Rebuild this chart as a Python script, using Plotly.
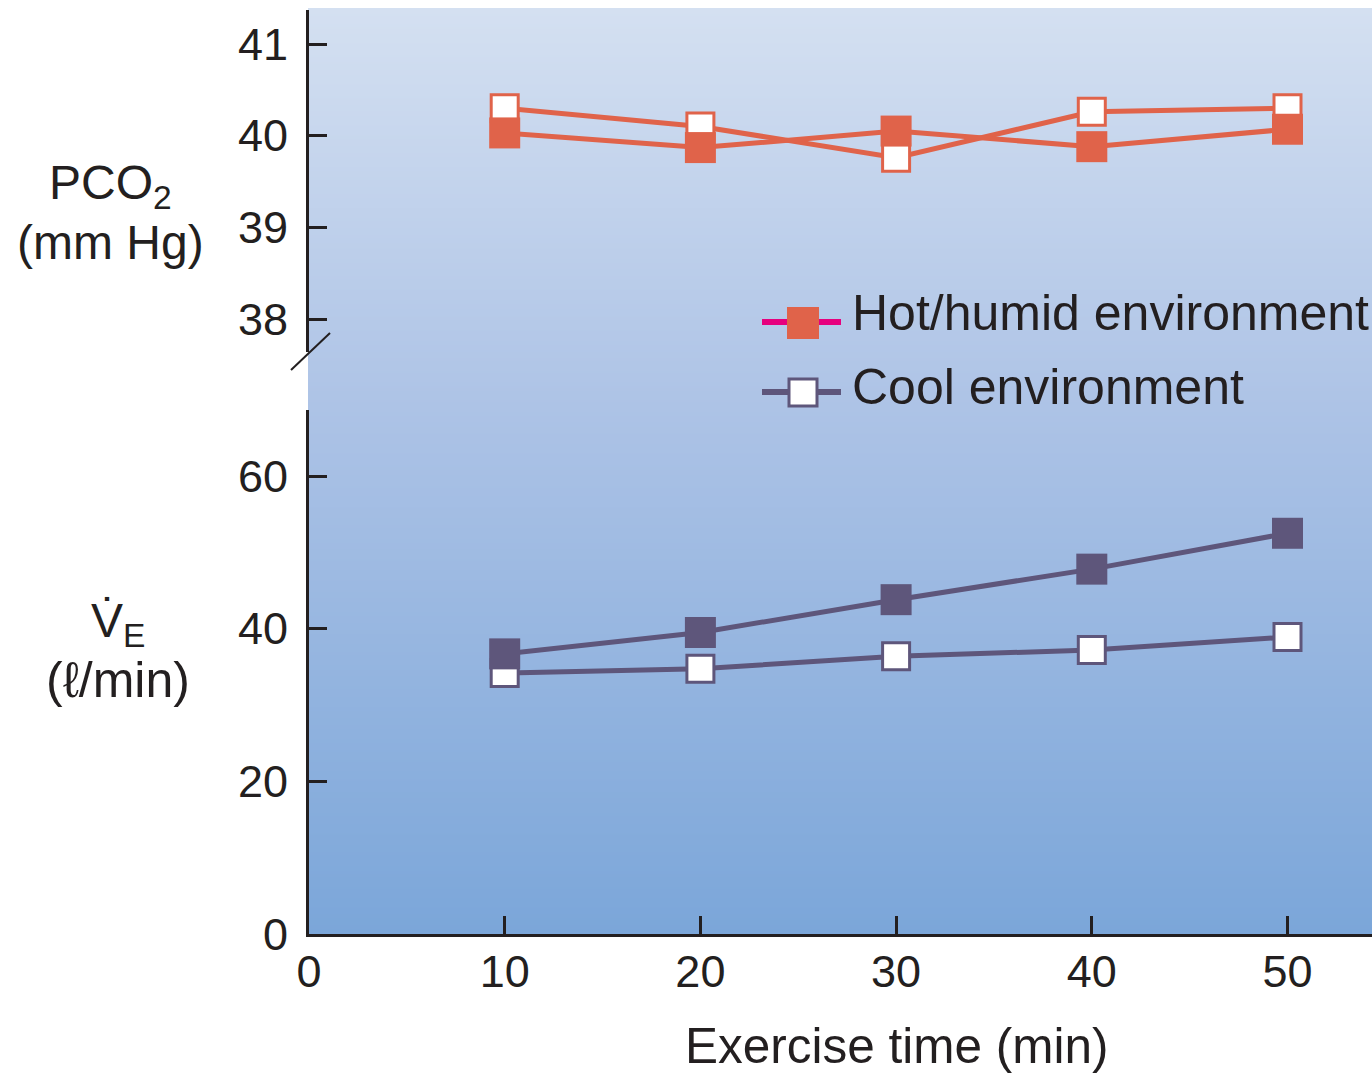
import plotly.graph_objects as go

# Exercise time points (min)
time_min = [10, 20, 30, 40, 50]

# Arterial PCO2 (mm Hg)
pco2_hot = [40.03, 39.87, 40.05, 39.88, 40.07]
pco2_cool = [40.3, 40.1, 39.76, 40.26, 40.3]

# Minute ventilation (l/min)
ve_hot = [36.7, 39.5, 43.8, 47.8, 52.5]
ve_cool = [34.2, 34.75, 36.4, 37.2, 38.9]

x_ticks = [0, 10, 20, 30, 40, 50]
pco2_ticks = [38, 39, 40, 41]
ve_ticks = [0, 20, 40, 60]

W, H = 1372, 1074
FONT = "Liberation Sans, Arial, Helvetica, sans-serif"
INK = "#231f20"
ORANGE = "#e0634a"
PURPLE = "#5e567b"
MAGENTA = "#e6007e"


def px(v):
    return v / W


def py(v):
    return 1 - v / H


fig = go.Figure()

# Vertical blue gradient behind both panels
n = 120
grad_y = [i / (n - 1) for i in range(n)]
fig.add_trace(go.Heatmap(
    x=[0, 1], y=grad_y, z=[[v, v] for v in grad_y],
    colorscale=[[0, "#7ba6d9"], [0.57, "#adc3e6"], [1, "#d4e0f1"]],
    zsmooth="best", showscale=False, hoverinfo="skip",
    xaxis="x", yaxis="y",
))

marker_open = dict(symbol="square", size=27, color="white")
marker_full = dict(symbol="square", size=31)

# Top panel: PCO2
fig.add_trace(go.Scatter(
    x=time_min, y=pco2_cool, mode="lines+markers",
    line=dict(color=ORANGE, width=5),
    marker=dict(**marker_open, line=dict(color=ORANGE, width=3)),
    xaxis="x2", yaxis="y2", showlegend=False,
))
fig.add_trace(go.Scatter(
    x=time_min, y=pco2_hot, mode="lines+markers",
    line=dict(color=ORANGE, width=5),
    marker=dict(**marker_full, color=ORANGE),
    xaxis="x2", yaxis="y2", showlegend=False,
))

# Bottom panel: ventilation
fig.add_trace(go.Scatter(
    x=time_min, y=ve_cool, mode="lines+markers",
    line=dict(color=PURPLE, width=5),
    marker=dict(**marker_open, line=dict(color=PURPLE, width=3)),
    xaxis="x3", yaxis="y3", showlegend=False,
))
fig.add_trace(go.Scatter(
    x=time_min, y=ve_hot, mode="lines+markers",
    line=dict(color=PURPLE, width=5),
    marker=dict(**marker_full, color=PURPLE),
    xaxis="x3", yaxis="y3", showlegend=False,
))

x_left = px(309)
x_range = [0, (W - 309) / 195.7 * 10]

axis_common = dict(
    showline=True, linecolor=INK, linewidth=3,
    ticks="inside", ticklen=18, tickwidth=3, tickcolor=INK,
    showgrid=False, zeroline=False, automargin=False,
    tickfont=dict(family=FONT, size=45, color=INK),
)

fig.update_layout(
    width=W, height=H,
    margin=dict(l=0, r=0, t=0, b=0, pad=0, autoexpand=False),
    paper_bgcolor="white", plot_bgcolor="rgba(0,0,0,0)",
    showlegend=False,
    xaxis=dict(domain=[px(308), 1], range=[0, 1], visible=False,
               fixedrange=True, automargin=False),
    yaxis=dict(domain=[py(934), py(8)], range=[0, 1], visible=False,
               fixedrange=True, automargin=False),
    xaxis2=dict(domain=[x_left, 1], range=x_range, visible=False,
                anchor="y2", automargin=False),
    yaxis2=dict(
        domain=[py(352), py(10)],
        range=[38 - (352 - 319) / 91.67, 41 + (44 - 10) / 91.67],
        tickvals=pco2_ticks, anchor="x2", ticklabelstandoff=9,
        **axis_common,
    ),
    xaxis3=dict(
        domain=[x_left, 1], range=x_range, tickvals=x_ticks,
        anchor="y3", ticklabelstandoff=-4, **axis_common,
    ),
    yaxis3=dict(
        domain=[py(934), py(410)],
        range=[0, (934 - 410) / 7.633],
        tickvals=ve_ticks, anchor="x3", ticklabelstandoff=9,
        **axis_common,
    ),
)

# Axis break mark on the PCO2 axis
fig.add_shape(type="line", xref="paper", yref="paper",
              x0=px(291), y0=py(370), x1=px(330), y1=py(333),
              line=dict(color=INK, width=2))

# Legend key, drawn by hand
fig.add_shape(type="line", xref="paper", yref="paper",
              x0=px(762), x1=px(841), y0=py(322), y1=py(322),
              line=dict(color=MAGENTA, width=6))
fig.add_shape(type="rect", xref="paper", yref="paper",
              x0=px(787), x1=px(819), y0=py(339), y1=py(307),
              line=dict(width=0), fillcolor=ORANGE)
fig.add_shape(type="line", xref="paper", yref="paper",
              x0=px(762), x1=px(841), y0=py(392), y1=py(392),
              line=dict(color=PURPLE, width=6))
fig.add_shape(type="rect", xref="paper", yref="paper",
              x0=px(789), x1=px(817), y0=py(406), y1=py(379),
              line=dict(color=PURPLE, width=3), fillcolor="white")


def label(text, x, y, size=48, xanchor="center"):
    fig.add_annotation(text=text, x=px(x), y=py(y), xref="paper", yref="paper",
                       xanchor=xanchor, yanchor="middle", showarrow=False,
                       font=dict(family=FONT, size=size, color=INK))


label("Hot/humid environment", 850, 313, size=50, xanchor="left")
label("Cool environment", 850, 387, size=50, xanchor="left")

label("PCO<sub>2</sub>", 110, 186)
label("(mm Hg)", 110, 242)
label("V\u0307<sub>E</sub>", 118, 624)
label("(\u2113/min)", 118, 680, size=50)
label("Exercise time (min)", 897, 1045, size=49.5)

fig.write_html("out.html")
